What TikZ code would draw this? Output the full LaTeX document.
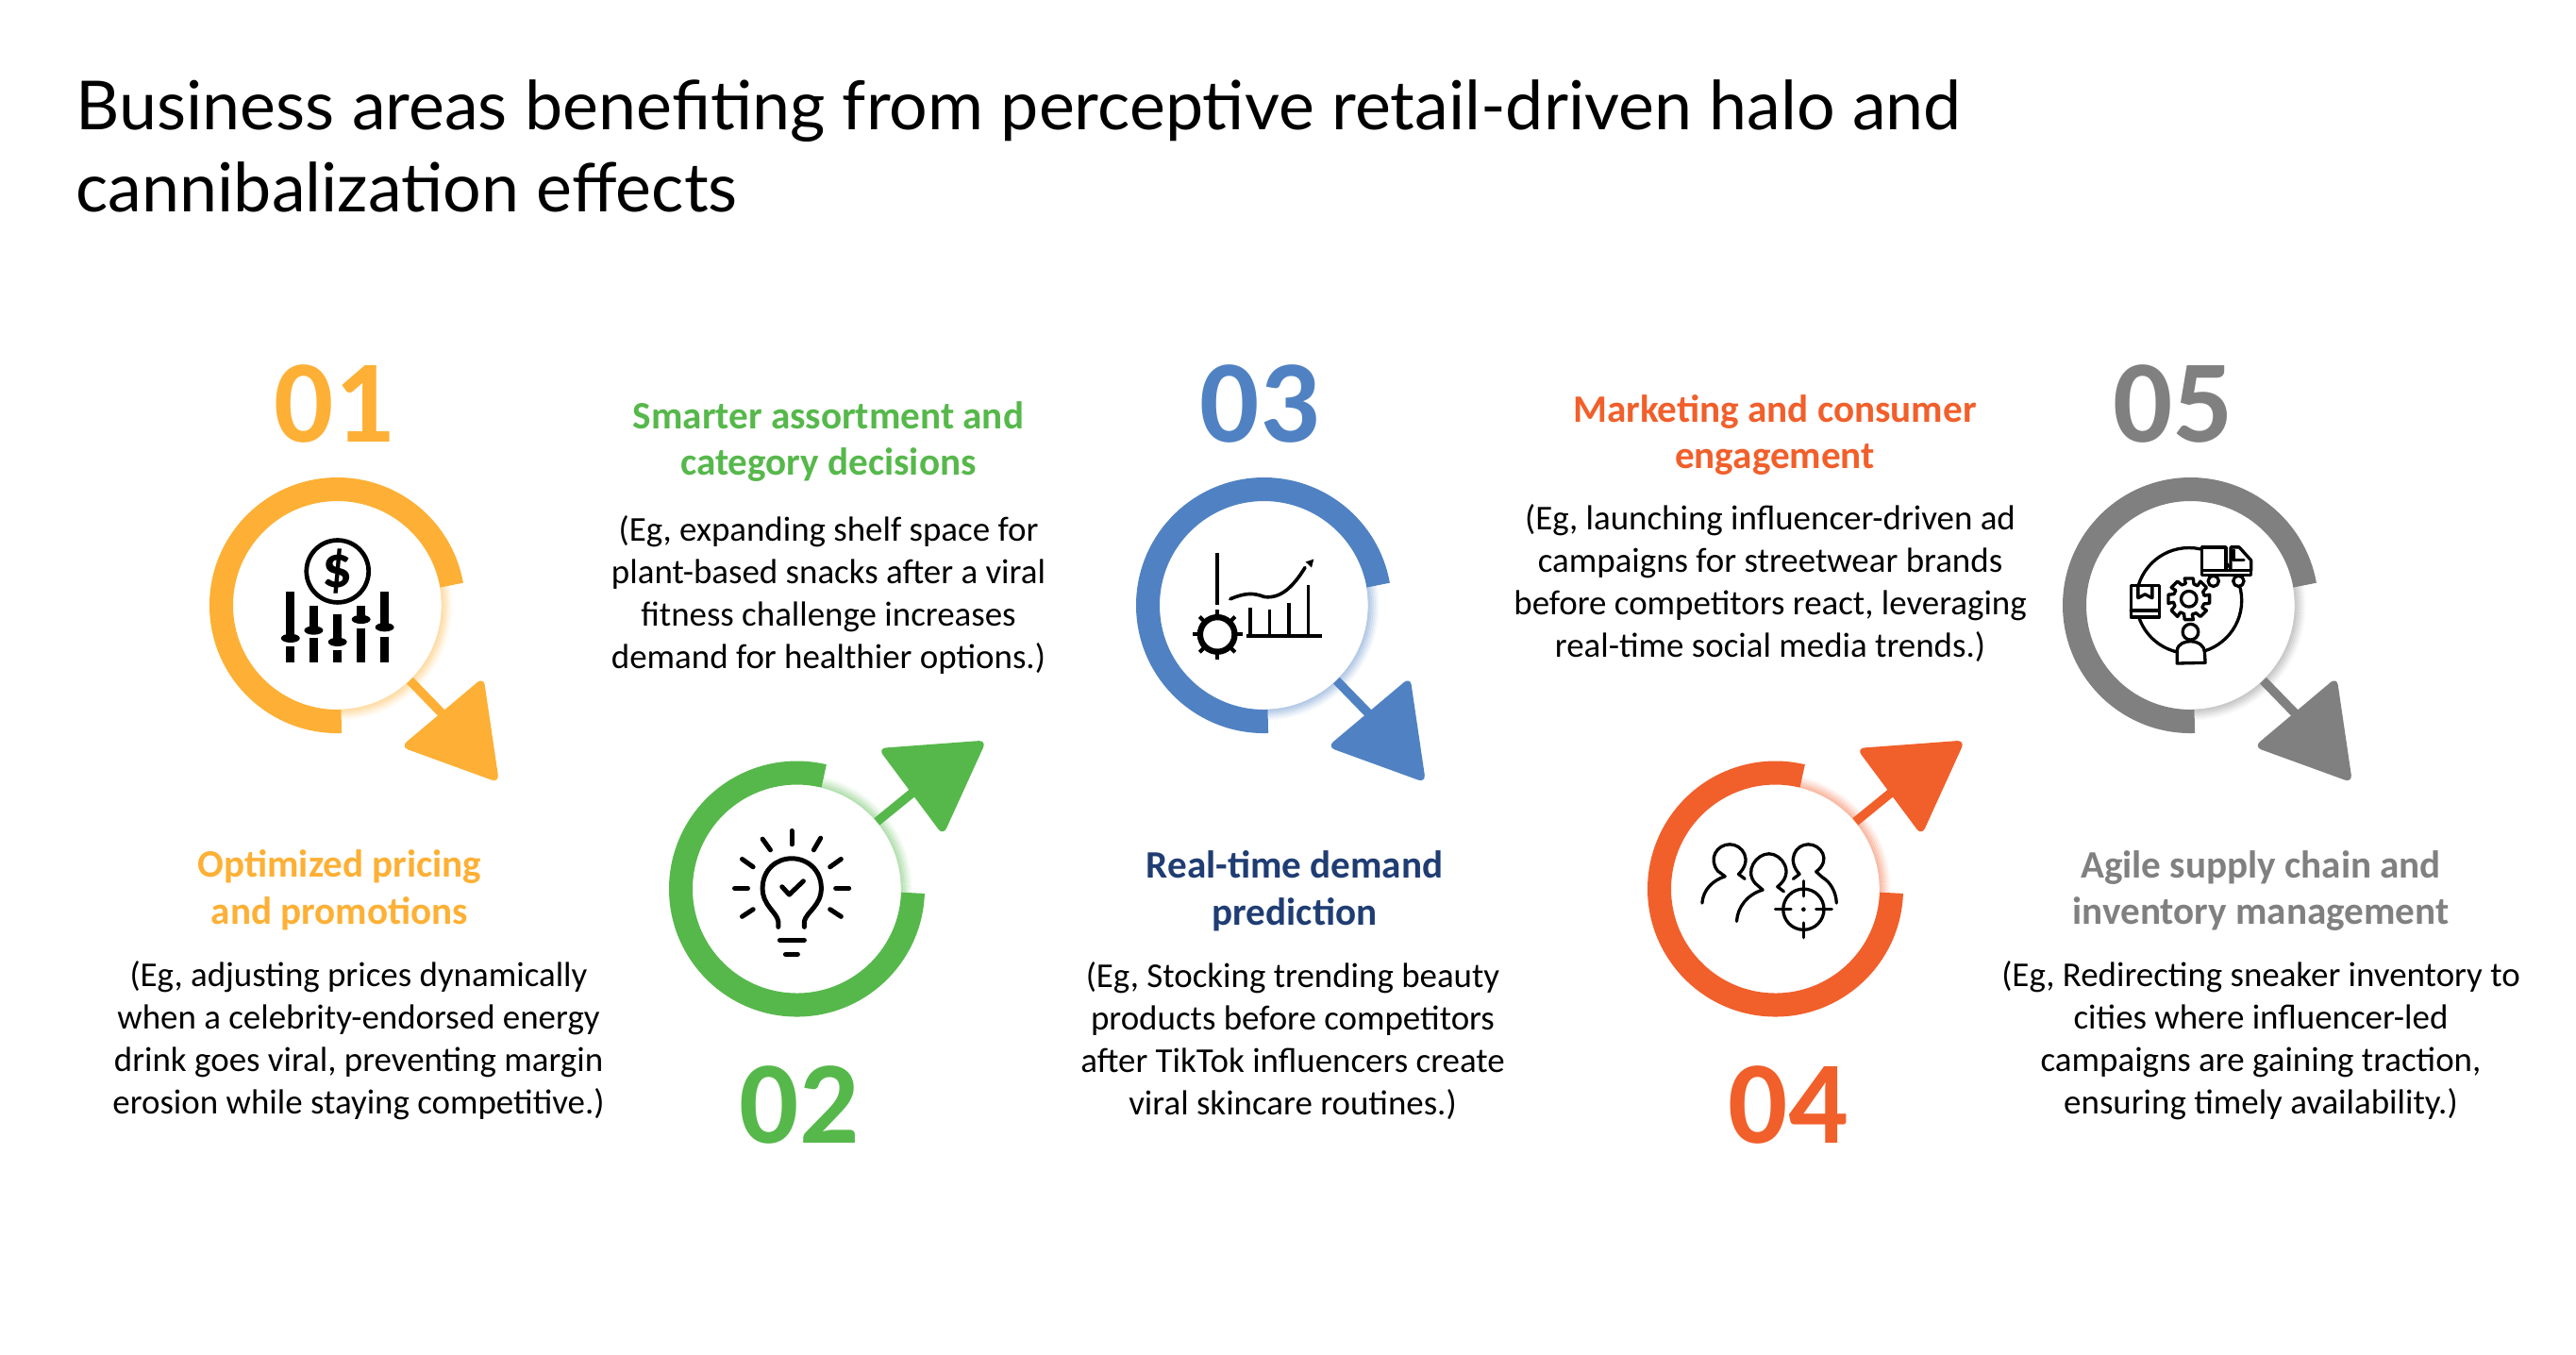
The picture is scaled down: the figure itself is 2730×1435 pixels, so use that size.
\documentclass[tikz,border=0pt]{standalone}
\usepackage{fontspec}
\setmainfont{Carlito}
\newfontfamily\titlefont{Lato}
\usetikzlibrary{positioning}

\definecolor{ringorange}{HTML}{FDB035}
\definecolor{ringgreen}{HTML}{56B84B}
\definecolor{ringblue}{HTML}{5082C3}
\definecolor{ringred}{HTML}{F15F2B}
\definecolor{ringgrey}{HTML}{808080}
\definecolor{headnavy}{HTML}{1F3D73}

\tikzset{
	ringdisc/.style={circle,fill=white,minimum size=2.2cm,inner sep=0pt},
	ringarc/.style={line width=0.25cm},
	stub/.style={line width=0.095cm},
	tri/.style={rounded corners=0.085cm},
	stepnum/.style={font=\fontsize{35.5}{40}\selectfont\bfseries,inner sep=0pt},
	headtext/.style={align=center,font=\fontsize{11.7}{14.2}\selectfont\bfseries,inner sep=0pt},
	desctext/.style={align=center,font=\fontsize{10.5}{12.8}\selectfont,inner sep=0pt},
	zoomed/.style={x=0.00333cm,y=-0.00333cm},
	iconline/.style={line width=0.05cm,line cap=round,line join=round},
	thinline/.style={line width=0.033cm,line cap=round,line join=round}
}

\begin{document}
\begin{tikzpicture}[x=0.01cm,y=-0.01cm]
	\useasboundingbox (0,0) rectangle (2730,1435);

	\node[anchor=north west,align=left,inner sep=0pt,font=\titlefont\fontsize{20.4}{24.75}\selectfont] (title) at (80,84)
	{Business areas benefiting from perceptive retail-driven halo and\\cannibalization effects};

	% rings with the arrow going down
	\foreach \n/\cx/\cy/\col in {one/357.5/641.5/ringorange,three/1339.5/641.5/ringblue,five/2321.5/641.5/ringgrey}{
		\foreach \r/\o in {111/.40,113/.33,115/.26,117/.18,119/.11,121/.05}
			\draw[\col,opacity=\o,line width=0.022cm] (\cx,\cy) ++(350:\r) arc (350:448:\r);
		\node[ringdisc] (ring\n) at (\cx,\cy) {};
		\draw[\col,ringarc] (\cx,\cy) ++(88:123) arc (88:350:123);
		\coordinate (tip\n) at ([shift={(120,124)}]\cx,\cy);
		\draw[\col,stub] (ring\n.-46) -- (tip\n);
		\fill[\col,tri] ([shift={(155,76)}]\cx,\cy) -- ([shift={(171.5,188)}]\cx,\cy) -- ([shift={(67,150)}]\cx,\cy) -- cycle;
	}

	% rings with the arrow going up
	\foreach \n/\cx/\cy/\col in {two/844.5/942/ringgreen,four/1881.5/942/ringred}{
		\foreach \r/\o in {111/.40,113/.33,115/.26,117/.18,119/.11,121/.05}
			\draw[\col,opacity=\o,line width=0.022cm] (\cx,\cy) ++(283.5:\r) arc (283.5:362:\r);
		\node[ringdisc] (ring\n) at (\cx,\cy) {};
		\draw[\col,ringarc] (\cx,\cy) ++(2:123) arc (2:283.5:123);
		\coordinate (tip\n) at ([shift={(130,-108)}]\cx,\cy);
		\draw[\col,stub] (ring\n.40) -- (tip\n);
		\fill[\col,tri] ([shift={(86,-149)}]\cx,\cy) -- ([shift={(201,-157.5)}]\cx,\cy) -- ([shift={(155,-56.5)}]\cx,\cy) -- cycle;
	}

	% numbers
	\node[stepnum,ringorange] (numone) at (354,428) {01};
	\node[stepnum,ringgreen] (numtwo) at (847,1171) {02};
	\node[stepnum,ringblue] (numthree) at (1335,428) {03};
	\node[stepnum,ringred] (numfour) at (1895,1171) {04};
	\node[stepnum,ringgrey] (numfive) at (2303,428) {05};

	% headings
	\node[headtext,ringorange] (headone) at (360,943) {Optimized pricing\\and promotions};
	\node[headtext,ringgreen] (headtwo) at (878,468) {Smarter assortment and\\category decisions};
	\node[headtext,headnavy] (headthree) at (1372,944) {Real-time demand\\prediction};
	\node[headtext,ringred] (headfour) at (1881,461) {Marketing and consumer\\engagement};
	\node[headtext,ringgrey] (headfive) at (2396,944) {Agile supply chain and\\inventory management};

	% descriptions
	\node[desctext] (descone) at (380,1103) {(Eg, adjusting prices dynamically\\when a celebrity-endorsed energy\\drink goes viral, preventing margin\\erosion while staying competitive.)};
	\node[desctext] (desctwo) at (878,630) {(Eg, expanding shelf space for\\plant-based snacks after a viral\\fitness challenge increases\\demand for healthier options.)};
	\node[desctext] (descthree) at (1370,1103) {(Eg, Stocking trending beauty\\products before competitors\\after TikTok influencers create\\viral skincare routines.)};
	\node[desctext] (descfour) at (1876,618) {(Eg, launching influencer-driven ad\\campaigns for streetwear brands\\before competitors react, leveraging\\real-time social media trends.)};
	\node[desctext] (descfive) at (2396,1103) {(Eg, Redirecting sneaker inventory to\\cities where influencer-led\\campaigns are gaining traction,\\ensuring timely availability.)};

	% icon 1: dollar and sliders
	\begin{scope}[shift={(180,480)},zoomed]
		\draw[line width=0.047cm] (534,377) circle (99);
		\node[inner sep=0pt,font=\fontsize{18}{18}\selectfont\bfseries] (dollar) at (534,377) {\$};
		\foreach \x/\ytop/\yknob/\ybot in {384/442/590/615,458/487/565/590,534/515/602/628,609/487/530/560,684/442/555/585}{
			\draw[line width=0.093cm] (\x,\ytop) -- (\x,\yknob);
			\draw[line width=0.093cm] (\x,\ybot) -- (\x,668);
			\fill (\x,\yknob) ellipse (30 and 14);
		}
	\end{scope}

	% icon 2: bulb
	\begin{scope}[shift={(680,770)},zoomed]
		\foreach \xa/\ya/\xb/\yb in {478/332/478/375,385/358/410/393,570/355/548/393,320/422/355/447,635/422/600/447,296/515/338/515,618/515/660/515,320/605/355/582,635/605/600/582,440/680/518/680,458/725/497/725}
			\draw[iconline] (\xa,\ya) -- (\xb,\yb);
		\draw[iconline] (435,638) -- (435,620) .. controls (430,590) and (385,570) .. (385,515) .. controls (385,455) and (430,420) .. (478,420) .. controls (526,420) and (572,455) .. (572,515) .. controls (572,570) and (525,590) .. (518,620) -- (518,638);
		\draw[iconline] (447,510) -- (470,535) -- (515,492);
	\end{scope}

	% icon 3: chart and gear
	\begin{scope}[shift={(1180,490)},zoomed]
		\draw[line width=0.036cm] (330,288) -- (330,455);
		\draw[line width=0.063cm] (331,548) circle (55);
		\foreach \t in {0,45,...,315}
			\draw[line width=0.04cm] (331,548) ++(\t:60) -- ++(\t:20);
		\draw[line width=0.036cm] (423,552) -- (665,552);
		\foreach \x/\y in {435/463,497/470,559/449,621/390}
			\draw[line width=0.036cm] (\x,\y) -- (\x,552);
		\draw[line width=0.036cm,line cap=round] (372,435) .. controls (420,415) and (445,415) .. (480,428) .. controls (530,435) and (570,400) .. (610,335);
		\fill (638,308) -- (612,317) -- (631,335) -- cycle;
	\end{scope}

	% icon 4: people and target
	\begin{scope}[shift={(1730,770)},zoomed]
		\draw[thinline] (222,562) .. controls (225,520) and (255,490) .. (295,477) -- (272,460) .. controls (240,420) and (270,375) .. (310,375) .. controls (350,375) and (385,425) .. (338,470) -- (358,485);
		\draw[thinline] (332,620) .. controls (335,575) and (365,535) .. (415,520) -- (392,500) .. controls (355,460) and (395,405) .. (435,405) .. controls (475,405) and (520,465) .. (462,510) -- (482,525);
		\draw[thinline] (512,485) -- (532,470) .. controls (490,425) and (520,375) .. (560,375) .. controls (600,375) and (635,425) .. (585,462) -- (605,480) .. controls (630,495) and (648,525) .. (650,562);
		\draw[thinline] (545,582) circle (65);
		\foreach \xa/\ya/\xb/\yb in {545/492/545/540,545/625/545/672,455/582/505/582,585/582/635/582}
			\draw[thinline] (\xa,\ya) -- (\xb,\yb);
		\fill (545,582) circle (7);
	\end{scope}

	% icon 5: supply chain
	\begin{scope}[shift={(2180,490)},zoomed]
		\draw[thinline] (420,440) circle (168);
		\draw[thinline,shift={(420,435)}] (-12:67) \foreach \t in {0,45,...,315}{ -- (\t-12:67) -- (\t+12:67) -- (\t+18:50) -- (\t+33:50)} -- cycle;
		\draw[thinline] (420,435) circle (25);
		% box
		\draw[thinline,fill=white] (235,392) rectangle (325,493);
		\draw[thinline] (235,472) -- (325,472);
		\draw[thinline] (258,392) -- (258,432) -- (280,420) -- (303,432) -- (303,392);
		% truck
		\draw[thinline,fill=white] (462,270) rectangle (538,345);
		\draw[thinline,fill=white] (553,270) -- (580,270) -- (618,312) -- (618,345) -- (553,345) -- cycle;
		\draw[thinline] (562,280) -- (562,310) -- (595,310);
		\draw[thinline,fill=white] (462,345) rectangle (618,358);
		\draw[thinline,fill=white] (498,378) circle (17);
		\draw[thinline,fill=white] (578,378) circle (17);
		% person
		\draw[thinline,fill=white] (425,540) circle (25);
		\draw[thinline,fill=white] (382,640) -- (382,600) .. controls (385,575) and (410,570) .. (425,570) .. controls (450,570) and (470,585) .. (470,605) -- (472,638) -- cycle;
	\end{scope}
\end{tikzpicture}
\end{document}
